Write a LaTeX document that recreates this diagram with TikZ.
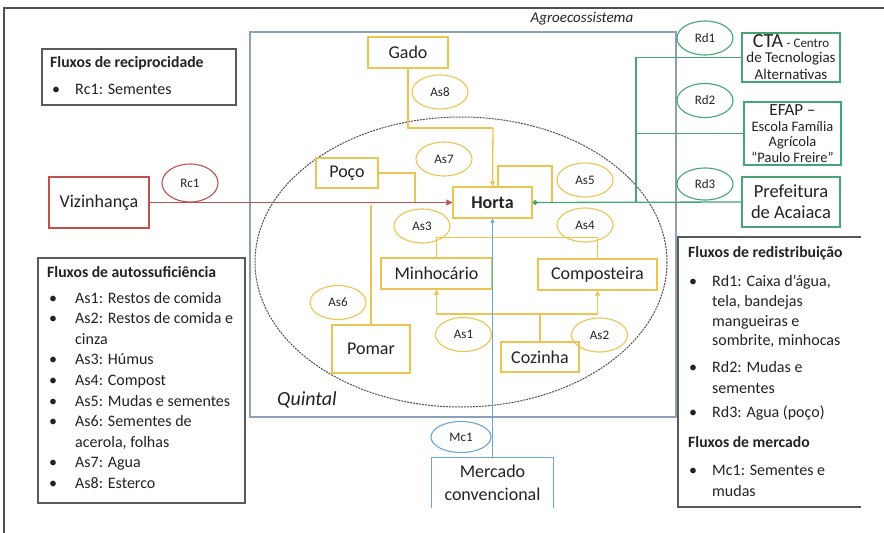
\documentclass[tikz,border=0pt]{standalone}
\usepackage{fontspec}
\setmainfont{Carlito}
\usetikzlibrary{arrows.meta,shapes.geometric}
\definecolor{ylw}{RGB}{236,196,82}
\definecolor{redc}{RGB}{192,80,77}
\definecolor{grn}{RGB}{70,165,115}
\definecolor{blu}{RGB}{110,165,215}
\definecolor{agro}{RGB}{140,160,185}
\definecolor{lgd}{RGB}{90,90,90}
\definecolor{txt}{RGB}{35,35,35}
\definecolor{frm}{RGB}{80,80,80}
\definecolor{dsh}{RGB}{80,80,80}
\begin{document}
\begin{tikzpicture}[x=1pt,y=-1pt,
  ybox/.style={draw=ylw, line width=1.3pt, fill=white, inner sep=0pt, text=txt, font=\fontsize{18}{20}\selectfont},
  yell/.style={ellipse, draw=ylw, line width=1.1pt, minimum width=56pt, minimum height=34pt, inner sep=0pt, text=txt, font=\fontsize{13}{14}\selectfont},
  rbox/.style={ybox, draw=redc},
  rell/.style={yell, draw=redc},
  gbox/.style={ybox, draw=grn, align=center},
  gell/.style={yell, draw=grn},
  bell/.style={yell, draw=blu},
  yline/.style={draw=ylw, line width=1.3pt},
  yarr/.style={yline, -{Triangle[length=5pt,width=5pt]}},
  lgdbox/.style={draw=lgd, line width=1.2pt},
  lt/.style={anchor=west, inner sep=0pt, text=txt, font=\fontsize{16}{18}\selectfont, text height=11.5pt, text depth=3.5pt},
  lh/.style={lt, font=\bfseries\fontsize{15.7}{18}\selectfont},
  lbl/.style={inner sep=0pt, text=txt}
]
\useasboundingbox (0,0) rectangle (884,533);
\fill[white] (0,0) rectangle (884,533);
% outer frame
\draw[line width=1.2pt, draw=frm] (4,533) -- (4,8) -- (884,8);
% agroecossistema
\draw[draw=agro, line width=1.2pt] (250,32) rectangle (676,417);
\node[lbl, font=\itshape\fontsize{15}{17}\selectfont] (agrolbl) at (582,19) {Agroecossistema};
% quintal
\draw[draw=dsh, line width=1pt, dash pattern=on 2pt off 1pt] (461,262) ellipse [x radius=206, y radius=145];
\node[lbl, font=\itshape\fontsize{20}{22}\selectfont] (quintal) at (307,400) {Quintal};

% yellow nodes
\node[ybox, minimum width=80, minimum height=31] (gado) at (408,52.5) {Gado};
\node[ybox, minimum width=62, minimum height=30] (poco) at (347,173) {Poço};
\node[ybox, font=\bfseries\fontsize{18}{20}\selectfont, minimum width=79, minimum height=31] (horta) at (492.5,202.5) {Horta};
\node[ybox, minimum width=111, minimum height=31] (minho) at (436.5,273.5) {Minhocário};
\node[ybox, minimum width=119, minimum height=31] (compo) at (597.5,274.5) {Composteira};
\node[ybox, minimum width=78, minimum height=48] (pomar) at (371,349) {Pomar};
\node[ybox, minimum width=78, minimum height=30] (cozinha) at (540,357) {Cozinha};

\node[yell] (as8) at (440,92) {As8};
\node[yell] (as7) at (444,159) {As7};
\node[yell] (as5) at (585,180) {As5};
\node[yell] (as3) at (422,226) {As3};
\node[yell] (as4) at (585,225) {As4};
\node[yell] (as6) at (338,302.5) {As6};
\node[yell] (as1) at (463.5,334.5) {As1};
\node[yell] (as2) at (599.5,335) {As2};

% red
\node[rbox, minimum width=100, minimum height=51] (viz) at (99,202.5) {Vizinhança};
\node[rell, minimum height=38] (rc1) at (190,183) {Rc1};

% green
\node[gbox, minimum width=98, minimum height=49, font=\fontsize{15}{17}\selectfont] (cta) at (791,57.5)
  {{\fontsize{20}{20}\selectfont CTA} {\fontsize{13}{15}\selectfont - Centro}\\[-2pt]
   de Tecnologias\\ Alternativas};
\node[gbox, minimum width=97, minimum height=63, font=\fontsize{14.5}{15.5}\selectfont] (efap) at (792.5,133.5)
  {{\fontsize{17}{17}\selectfont EFAP –}\\
   Escola Família\\ Agrícola\\ “Paulo Freire”};
\node[gbox, minimum width=98, minimum height=50, font=\fontsize{18.5}{21}\selectfont] (pref) at (791,202) {Prefeitura\\de Acaiaca};
\node[gell] (rd1) at (705,38) {Rd1};
\node[gell] (rd2) at (705,100.5) {Rd2};
\node[gell, minimum height=32] (rd3) at (705,184) {Rd3};

% blue
\node[bell, minimum width=60, minimum height=31] (mc1) at (461,437) {Mc1};
\node[inner sep=0pt, minimum width=121, minimum height=50, align=center, text=txt, font=\fontsize{18}{23}\selectfont] (merc) at (492.5,483) {Mercado\\convencional};
\draw[draw=blu, line width=1.2pt] (merc.south west) -- (merc.north west) -- (merc.north east) -- (merc.south east);

% yellow connectors
\coordinate (j1) at (493,128);
\draw[yline] (gado.south) |- (j1);
\draw[yarr] (j1) -- (horta.north);
\coordinate (j2) at (415,202.5);
\draw[yline] (poco.east) -| (j2);
\coordinate (j3a) at (498,187);
\coordinate (j3b) at (552,166);
\coordinate (j3c) at (552,202.5);
\draw[yline] (j3a) |- (j3b) -- (j3c);
\draw[yline] (minho.north) -- ++(0,-20) -| (compo.north);
\coordinate (j4) at (540,314);
\draw[yline] (cozinha.north) -- (j4);
\draw[yarr] (j4) -| (minho.south);
\draw[yarr] (j4) -| (compo.south);
\coordinate (j5) at (371,205);
\draw[yline] (pomar.north) -- (j5);

% red connector
\draw[draw=redc, line width=1.3pt, -{Triangle[length=6pt,width=6pt]}] (viz.east) -- (horta.west);
% blue connector
\draw[draw=blu, line width=1.3pt, -{Triangle[length=4pt,width=4pt]}] (merc.north) -- (horta.south);
% green connectors
\coordinate (g1) at (636,57.5);
\coordinate (g3) at (636,202);
\draw[draw=grn, line width=1.3pt] (cta.west) -- (g1) -- (g3);
\draw[draw=grn, line width=1.3pt] (efap.west) -- (efap.west -| g1);
\draw[draw=grn, line width=1.3pt, -{Circle[length=5pt]}] (pref.west) -- (horta.east);

% legend: reciprocidade
\draw[lgdbox] (42,49) rectangle (236,105);
\node[lh] (rt) at (50,63) {Fluxos de reciprocidade};
\node[lt] (rb1) at (52,90) {•};
\node[lt] (ri1) at (75,90) {Rc1: Sementes};

% legend: autossuficiencia
\draw[lgdbox] (38,258) rectangle (245,503);
\node[lh] (at) at (47,273) {Fluxos de autossuficiência};
\node[lt] (ab1) at (49,299) {•};
\node[lt] (ai1) at (75,299) {As1: Restos de comida};
\node[lt] (ab2) at (49,319.6) {•};
\node[lt] (ai2) at (75,319.6) {As2: Restos de comida e};
\node[lt] (ai2b) at (75,340.2) {cinza};
\node[lt] (ab3) at (49,360.8) {•};
\node[lt] (ai3) at (75,360.8) {As3: Húmus};
\node[lt] (ab4) at (49,381.4) {•};
\node[lt] (ai4) at (75,381.4) {As4: Compost};
\node[lt] (ab5) at (49,402) {•};
\node[lt] (ai5) at (75,402) {As5: Mudas e sementes};
\node[lt] (ab6) at (49,422.6) {•};
\node[lt] (ai6) at (75,422.6) {As6: Sementes de};
\node[lt] (ai6b) at (75,443.2) {acerola, folhas};
\node[lt] (ab7) at (49,463.8) {•};
\node[lt] (ai7) at (75,463.8) {As7: Agua};
\node[lt] (ab8) at (49,484.4) {•};
\node[lt] (ai8) at (75,484.4) {As8: Esterco};

% legend: redistribuicao + mercado
\draw[lgdbox] (861,237) -- (678,237) -- (678,507) -- (861,507);
\node[lh] (dt) at (688,253) {Fluxos de redistribuição};
\node[lt] (db1) at (689,282) {•};
\node[lt] (di1) at (712,282) {Rd1: Caixa d’água,};
\node[lt] (di1b) at (712,302) {tela, bandejas};
\node[lt] (di1c) at (712,322) {mangueiras e};
\node[lt] (di1d) at (712,341) {sombrite, minhocas};
\node[lt] (db2) at (689,368) {•};
\node[lt] (di2) at (712,368) {Rd2: Mudas e};
\node[lt] (di2b) at (712,389) {sementes};
\node[lt] (db3) at (689,413) {•};
\node[lt] (di3) at (712,413) {Rd3: Agua (poço)};
\node[lh] (mt) at (688,443) {Fluxos de mercado};
\node[lt] (mb1) at (689,471) {•};
\node[lt] (mi1) at (712,471) {Mc1: Sementes e};
\node[lt] (mi1b) at (712,492) {mudas};
\end{tikzpicture}
\end{document}
